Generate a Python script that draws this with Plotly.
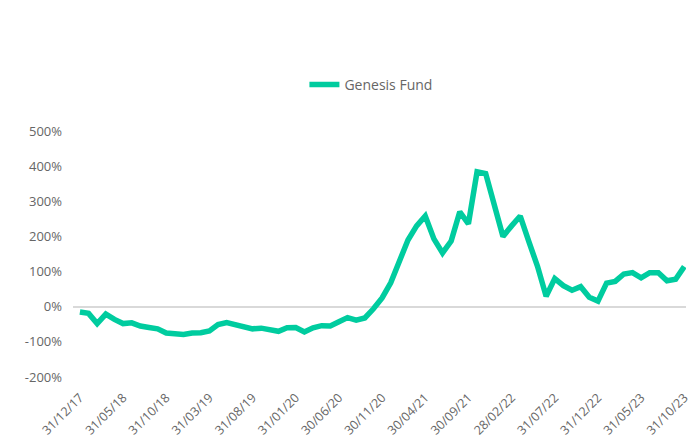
import plotly.graph_objects as go

dates = [
    "31/12/17","31/01/18","28/02/18","31/03/18","30/04/18","31/05/18","30/06/18","31/07/18","31/08/18","30/09/18",
    "31/10/18","30/11/18","31/12/18","31/01/19","28/02/19","31/03/19","30/04/19","31/05/19","30/06/19","31/07/19",
    "31/08/19","30/09/19","31/10/19","30/11/19","31/12/19","31/01/20","29/02/20","31/03/20","30/04/20","31/05/20",
    "30/06/20","31/07/20","31/08/20","30/09/20","31/10/20","30/11/20","31/12/20","31/01/21","28/02/21","31/03/21",
    "30/04/21","31/05/21","30/06/21","31/07/21","31/08/21","30/09/21","31/10/21","30/11/21","31/12/21","31/01/22",
    "28/02/22","31/03/22","30/04/22","31/05/22","30/06/22","31/07/22","31/08/22","30/09/22","31/10/22","30/11/22",
    "31/12/22","31/01/23","28/02/23","31/03/23","30/04/23","31/05/23","30/06/23","31/07/23","31/08/23","30/09/23",
    "31/10/23",
]

genesis_fund = [
    -15, -19, -48, -21, -36, -48, -46, -55, -59, -63,
    -75, -78, -79, -75, -74, -69, -51, -45, -51, -58,
    -63, -61, -67, -70, -60, -59, -72, -60, -54, -55,
    -43, -31, -38, -32, -6, 25, 68, 125, 190, 230,
    258, 193, 153, 187, 270, 236, 384, 379, 295, 200,
    230, 258, 185, 115, 30, 80, 60, 47, 57, 27,
    16, 67, 72, 93, 97, 82, 97, 97, 74, 78,
    114,
]

y_ticks = [-200, -100, 0, 100, 200, 300, 400, 500]
x_tick_idx = list(range(0, len(dates), 5))

grey = "#666666"
font_family = "Open Sans, Lato, sans-serif"

fig = go.Figure()
fig.add_trace(go.Scatter(
    x=list(range(len(dates))),
    y=genesis_fund,
    mode="lines",
    name="Genesis Fund",
    line=dict(color="#00CC9F", width=5.5),
    customdata=dates,
    hovertemplate="%{customdata}: %{y}%<extra></extra>",
))

# page body has an 8px default margin, so the figure is sized/offset accordingly
fig.update_layout(
    width=688, height=429,
    margin=dict(l=65, r=10, t=123, b=60),
    paper_bgcolor="white",
    plot_bgcolor="white",
    font=dict(family=font_family, color=grey, size=12),
    showlegend=True,
    legend=dict(
        orientation="h",
        x=0.486, xanchor="center",
        y=1.187, yanchor="middle",
        font=dict(size=14, color=grey),
    ),
    xaxis=dict(
        range=[-0.8, 70.2],
        tickmode="array",
        tickvals=x_tick_idx,
        ticktext=[dates[i] for i in x_tick_idx],
        tickangle=-45,
        showgrid=False,
        zeroline=False,
        showline=False,
        ticks="",
        ticklabelstandoff=10,
        tickfont=dict(size=12.5, color=grey),
        automargin=False,
    ),
    yaxis=dict(
        range=[-200, 500],
        tickmode="array",
        tickvals=y_ticks,
        ticktext=[f"{v}%" for v in y_ticks],
        showgrid=False,
        zeroline=True,
        zerolinecolor="#d9d9d9",
        zerolinewidth=2,
        showline=False,
        ticks="",
        ticklabelstandoff=10,
        tickfont=dict(size=13, color=grey),
        automargin=False,
    ),
)

fig.write_html("out.html")
